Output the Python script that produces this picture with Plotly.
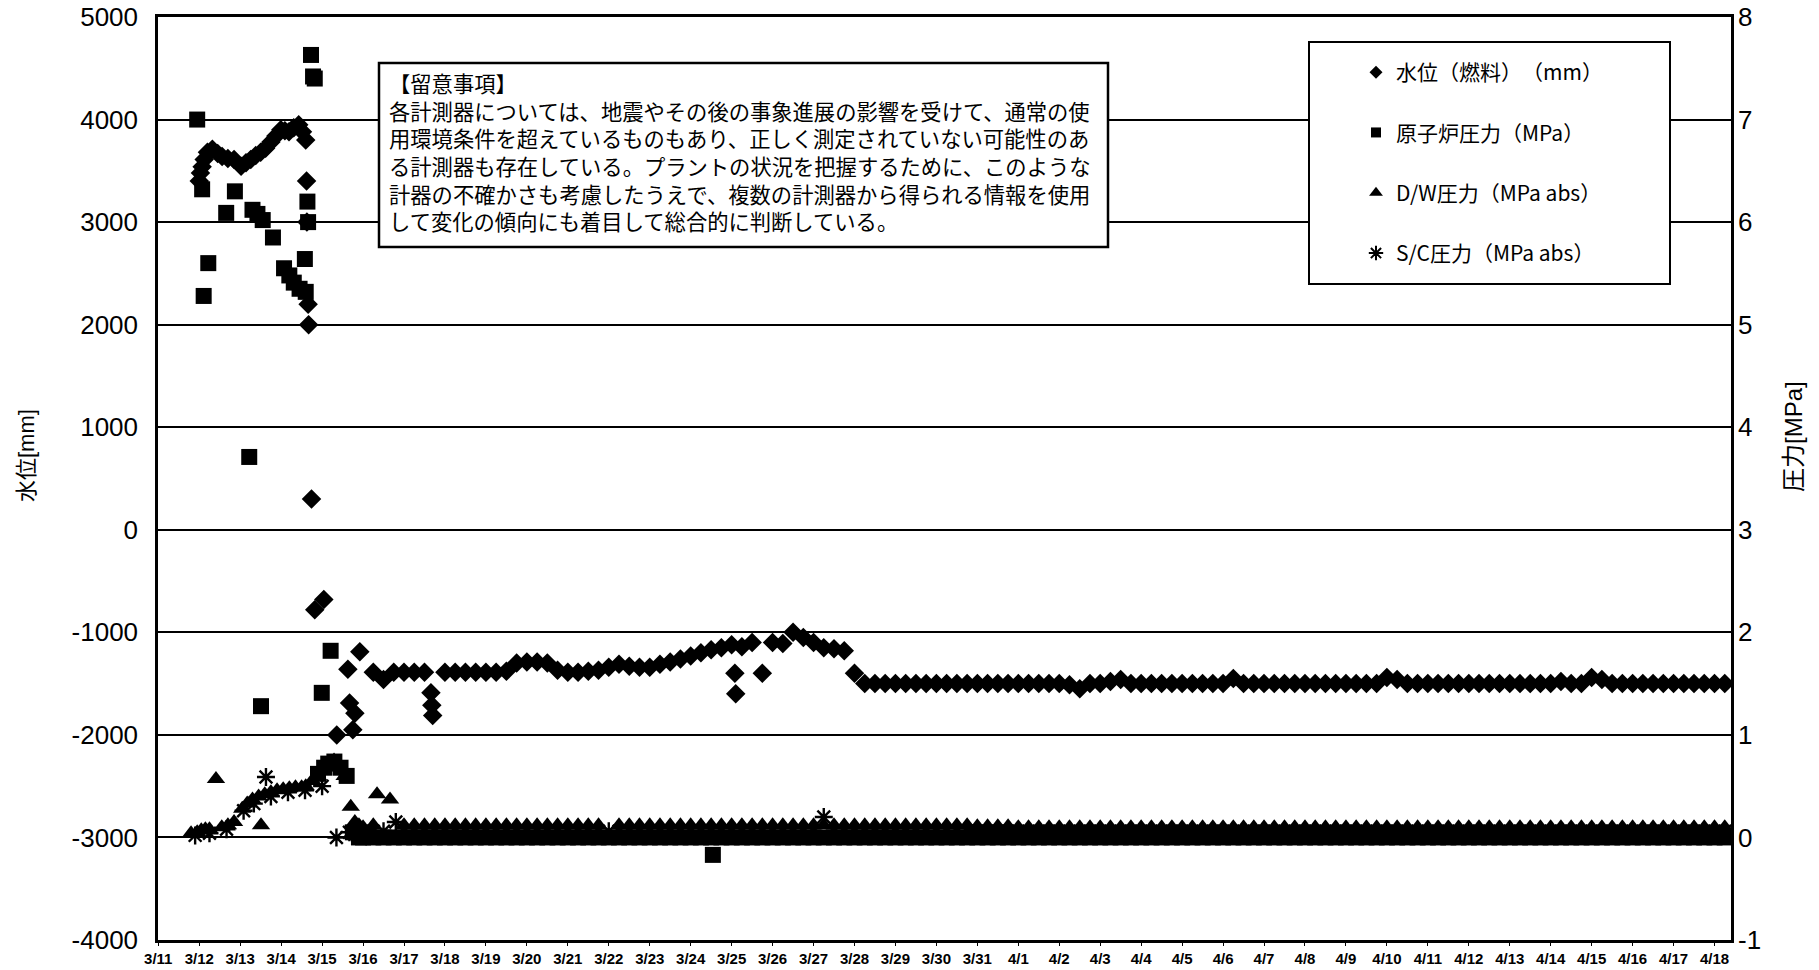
import plotly.graph_objects as go
import pandas as pd

# ---------------- data ----------------
BASE = pd.Timestamp("2011-03-11 00:00")

# Water level (fuel range) [mm] - irregular early readings, hours since 3/11 00:00
wl_early_h = [24.0, 24.7, 25.7, 26.9, 28.8, 31.7, 34.8, 37.4, 40.8, 44.4,
              48.5, 51.4, 54.2, 57.1, 60.0, 62.9, 66.0, 68.9, 71.8, 74.2,
              76.6, 79.4, 82.3, 84.5, 86.4, 86.9, 87.1, 87.8, 88.1, 89.8,
              91.7, 97.0, 104.6, 111.1, 112.1, 114.0, 115.2, 118.1,
              159.8, 160.3, 160.8, 337.9, 338.4]
wl_early_v = [3400, 3480, 3540, 3610, 3680, 3710, 3670, 3640, 3620, 3610,
              3545, 3580, 3610, 3650, 3680, 3720, 3780, 3840, 3900, 3890,
              3880, 3920, 3950, 3880, 3800, 3400, 3000, 2200, 2000, 300,
              -780, -680, -2000, -1360, -1690, -1950, -1790, -1190,
              -1590, -1710, -1810, -1400, -1600]

# Regular 6-hourly readings (00, 06, 12, 18 h) from 3/16 06:00 to 4/18 06:00
late_t = pd.date_range("2011-03-16 06:00", "2011-04-18 06:00", freq="6h")
wl_late = [
    -1390, -1460, -1390,                      # 3/16
    -1390, -1390, -1390, None,                # 3/17
    -1390, -1390, -1390, -1390,               # 3/18
    -1390, -1390, -1380, -1300,               # 3/19
    -1290, -1290, -1300, -1370,               # 3/20
    -1390, -1390, -1380, -1370,               # 3/21
    -1340, -1310, -1330, -1340,               # 3/22
    -1340, -1310, -1290, -1260,               # 3/23
    -1230, -1200, -1170, -1150,               # 3/24
    -1120, -1140, -1100, -1400,               # 3/25
    -1100, -1110, -1000, -1050,               # 3/26
    -1100, -1150, -1160, -1180,               # 3/27
    -1400, -1500, -1500, -1500,               # 3/28
    -1500, -1500, -1500, -1500,               # 3/29
    -1500, -1500, -1500, -1500,               # 3/30
    -1500, -1500, -1500, -1500,               # 3/31
    -1500, -1500, -1500, -1500,               # 4/1
    -1500, -1510, -1550, -1500,               # 4/2
    -1500, -1480, -1460, -1500,               # 4/3
    -1500, -1500, -1500, -1500,               # 4/4
    -1500, -1500, -1500, -1500,               # 4/5
    -1500, -1450, -1500, -1500,               # 4/6
    -1500, -1500, -1500, -1500,               # 4/7
    -1500, -1500, -1500, -1500,               # 4/8
    -1500, -1500, -1500, -1500,               # 4/9
    -1440, -1460, -1500, -1500,               # 4/10
    -1500, -1500, -1500, -1500,               # 4/11
    -1500, -1500, -1500, -1500,               # 4/12
    -1500, -1500, -1500, -1500,               # 4/13
    -1500, -1480, -1500, -1500,               # 4/14
    -1440, -1460, -1500, -1500,               # 4/15
    -1500, -1500, -1500, -1500,               # 4/16
    -1500, -1500, -1500, -1500,               # 4/17
    -1500, -1500,                             # 4/18
]

# Reactor pressure [MPa]
rpv_early_h = [22.8, 25.7, 26.6, 29.3, 39.8, 44.9, 53.3, 55.2, 58.1, 60.2,
               61.2, 67.2, 73.7, 76.8, 79.4, 82.8, 85.9, 86.4, 87.4, 87.8,
               89.5, 90.7, 91.7, 93.6, 95.8, 97.2, 99.6, 101.0, 103.2, 106.8,
               110.4, 114.0, 117.6, 120.0, 325.0]
rpv_early_v = [7.00, 6.32, 5.28, 5.60, 6.09, 6.30, 3.71, 6.12, 6.08, 1.28,
               6.02, 5.85, 5.55, 5.48, 5.41, 5.35, 5.64, 5.32, 6.20, 6.00,
               7.63, 7.42, 7.40, 0.62, 1.41, 0.68, 0.72, 1.82, 0.74, 0.68,
               0.60, 0.05, 0.00, 0.00, -0.17]
rpv_late = [
    0.00, 0.00, 0.00,                         # 3/16
    0.00, 0.00, 0.00, 0.00,                   # 3/17
    0.00, 0.00, 0.00, 0.00,                   # 3/18
    0.00, 0.00, 0.00, 0.00,                   # 3/19
    0.00, 0.00, 0.00, 0.00,                   # 3/20
    0.00, 0.00, 0.00, 0.00,                   # 3/21
    0.00, 0.00, 0.00, 0.00,                   # 3/22
    0.00, 0.00, 0.00, 0.00,                   # 3/23
    0.00, 0.00, 0.00, 0.00,                   # 3/24
    0.00, 0.00, 0.00, 0.00,                   # 3/25
    0.00, 0.00, 0.00, 0.00,                   # 3/26
    0.00, 0.00, 0.00, 0.00,                   # 3/27
    0.00, 0.00, 0.00, 0.00,                   # 3/28
    0.00, 0.00, 0.00, 0.00,                   # 3/29
    0.00, 0.00, 0.00, 0.00,                   # 3/30
    0.00, 0.00, 0.00, 0.00,                   # 3/31
    0.00, 0.00, 0.00, 0.00,                   # 4/1
    0.00, 0.00, 0.00, 0.00,                   # 4/2
    0.00, 0.00, 0.00, 0.00,                   # 4/3
    0.00, 0.00, 0.00, 0.00,                   # 4/4
    0.00, 0.00, 0.00, 0.00,                   # 4/5
    0.00, 0.00, 0.00, 0.00,                   # 4/6
    0.00, 0.00, 0.00, 0.00,                   # 4/7
    0.00, 0.00, 0.00, 0.00,                   # 4/8
    0.00, 0.00, 0.00, 0.00,                   # 4/9
    0.00, 0.00, 0.00, 0.00,                   # 4/10
    0.00, 0.00, 0.00, 0.00,                   # 4/11
    0.00, 0.00, 0.00, 0.00,                   # 4/12
    0.00, 0.00, 0.00, 0.00,                   # 4/13
    0.00, 0.00, 0.00, 0.00,                   # 4/14
    0.00, 0.00, 0.00, 0.00,                   # 4/15
    0.00, 0.00, 0.00, 0.00,                   # 4/16
    0.00, 0.00, 0.00, 0.00,                   # 4/17
    0.00, 0.00,                               # 4/18
]

# D/W pressure [MPa abs]
dw_early_h = [19.2, 22.8, 25.2, 27.6, 30.0, 33.8, 37.2, 40.8, 44.4, 49.2,
              52.1, 55.2, 58.8, 60.2, 62.4, 66.0, 69.6, 73.2, 76.8, 80.4,
              84.0, 86.4, 90.0, 93.6, 96.0, 99.6, 103.0, 105.6, 109.2, 112.8,
              115.2, 117.6, 120.0, 128.2, 135.8]
dw_early_v = [0.04, 0.05, 0.07, 0.08, 0.08, 0.57, 0.10, 0.12, 0.15, 0.28,
              0.33, 0.37, 0.40, 0.12, 0.42, 0.44, 0.46, 0.47, 0.48, 0.49,
              0.49, 0.50, 0.55, 0.60, 0.65, 0.70, 0.75, 0.70, 0.60, 0.30,
              0.15, 0.12, 0.10, 0.42, 0.37]
dw_late = [
    0.12, None, None,                         # 3/16
    0.12, 0.12, 0.12, 0.12,                   # 3/17
    0.12, 0.12, 0.12, 0.12,                   # 3/18
    0.12, 0.12, 0.12, 0.12,                   # 3/19
    0.12, 0.12, 0.12, 0.12,                   # 3/20
    0.12, 0.12, 0.12, 0.12,                   # 3/21
    None, 0.12, 0.12, 0.12,                   # 3/22
    0.12, 0.12, 0.12, 0.12,                   # 3/23
    0.12, 0.12, 0.12, 0.12,                   # 3/24
    0.12, 0.12, 0.12, 0.12,                   # 3/25
    0.12, 0.12, 0.12, 0.12,                   # 3/26
    0.12, 0.12, 0.12, 0.12,                   # 3/27
    0.12, 0.12, 0.12, 0.12,                   # 3/28
    0.12, 0.12, 0.12, 0.12,                   # 3/29
    0.12, 0.12, 0.12, 0.12,                   # 3/30
    0.11, 0.11, 0.11, 0.11,                   # 3/31
    0.10, 0.10, 0.10, 0.10,                   # 4/1
    0.10, 0.10, 0.10, 0.10,                   # 4/2
    0.10, 0.10, 0.10, 0.10,                   # 4/3
    0.10, 0.10, 0.10, 0.10,                   # 4/4
    0.10, 0.10, 0.10, 0.10,                   # 4/5
    0.10, 0.10, 0.10, 0.10,                   # 4/6
    0.10, 0.10, 0.10, 0.10,                   # 4/7
    0.10, 0.10, 0.10, 0.10,                   # 4/8
    0.10, 0.10, 0.10, 0.10,                   # 4/9
    0.10, 0.10, 0.10, 0.10,                   # 4/10
    0.10, 0.10, 0.10, 0.10,                   # 4/11
    0.10, 0.10, 0.10, 0.10,                   # 4/12
    0.10, 0.10, 0.10, 0.10,                   # 4/13
    0.10, 0.10, 0.10, 0.10,                   # 4/14
    0.10, 0.10, 0.10, 0.10,                   # 4/15
    0.10, 0.10, 0.10, 0.10,                   # 4/16
    0.10, 0.10, 0.10, 0.10,                   # 4/17
    0.10, 0.10,                               # 4/18
]

# S/C pressure [MPa abs]
sc_early_h = [21.6, 30.0, 40.0, 50.0, 56.0, 63.1, 66.0, 76.0, 86.0, 96.0,
              104.4, 112.0, 120.0, 139.2]
sc_early_v = [0.02, 0.04, 0.08, 0.26, 0.33, 0.59, 0.40, 0.44, 0.46, 0.50,
              0.00, 0.05, 0.05, 0.15]
sc_late = [
    0.06, 0.06, None,                         # 3/16
    0.06, 0.06, 0.06, 0.06,                   # 3/17
    0.06, 0.06, 0.06, 0.06,                   # 3/18
    0.06, 0.06, 0.06, 0.06,                   # 3/19
    0.06, 0.06, 0.06, 0.06,                   # 3/20
    0.06, 0.06, 0.06, 0.06,                   # 3/21
    0.06, 0.06, 0.06, 0.06,                   # 3/22
    0.06, 0.06, 0.06, 0.06,                   # 3/23
    0.06, 0.06, 0.06, 0.06,                   # 3/24
    0.06, 0.06, 0.06, 0.06,                   # 3/25
    0.06, 0.06, 0.06, 0.06,                   # 3/26
    0.06, 0.20, 0.06, 0.06,                   # 3/27
    0.06, 0.06, 0.06, 0.06,                   # 3/28
    0.06, 0.06, 0.06, 0.06,                   # 3/29
    0.06, 0.06, 0.06, 0.06,                   # 3/30
    0.06, 0.06, 0.06, 0.06,                   # 3/31
    0.06, 0.06, 0.06, 0.06,                   # 4/1
    0.06, 0.06, 0.06, 0.06,                   # 4/2
    0.06, 0.06, 0.06, 0.06,                   # 4/3
    0.06, 0.06, 0.06, 0.06,                   # 4/4
    0.06, 0.06, 0.06, 0.06,                   # 4/5
    0.06, 0.06, 0.06, 0.06,                   # 4/6
    0.06, 0.06, 0.06, 0.06,                   # 4/7
    0.06, 0.06, 0.06, 0.06,                   # 4/8
    0.06, 0.06, 0.06, 0.06,                   # 4/9
    0.06, 0.06, 0.06, 0.06,                   # 4/10
    0.06, 0.06, 0.06, 0.06,                   # 4/11
    0.06, 0.06, 0.06, 0.06,                   # 4/12
    0.06, 0.06, 0.06, 0.06,                   # 4/13
    0.06, 0.06, 0.06, 0.06,                   # 4/14
    0.06, 0.06, 0.06, 0.06,                   # 4/15
    0.06, 0.06, 0.06, 0.06,                   # 4/16
    0.06, 0.06, 0.06, 0.06,                   # 4/17
    0.06, 0.06,                               # 4/18
]

series_names = ["水位（燃料）（mm）", "原子炉圧力（MPa）", "D/W圧力（MPa abs）", "S/C圧力（MPa abs）"]
x_dates = pd.date_range("2011-03-11", "2011-04-18", freq="D")
x_ticklabels = [f"{d.month}/{d.day}" for d in x_dates]
y1_ticks = [-4000, -3000, -2000, -1000, 0, 1000, 2000, 3000, 4000, 5000]
y2_ticks = [-1, 0, 1, 2, 3, 4, 5, 6, 7, 8]

note_lines = [
    "【留意事項】",
    "各計測器については、地震やその後の事象進展の影響を受けて、通常の使",
    "用環境条件を超えているものもあり、正しく測定されていない可能性のあ",
    "る計測器も存在している。プラントの状況を把握するために、このような",
    "計器の不確かさも考慮したうえで、複数の計測器から得られる情報を使用",
    "して変化の傾向にも着目して総合的に判断している。",
]

# ---------------- figure ----------------
W, H = 1819, 970
L, R, T, B = 158, 88, 17, 30
PW, PH = W - L - R, H - T - B


def px(xp):
    return (xp - L) / PW


def py(yp):
    return (H - B - yp) / PH


FONT = "Arial, 'Liberation Sans', 'Noto Sans CJK JP', sans-serif"
JFONT = "'Noto Sans CJK JP', 'Liberation Sans', sans-serif"


def times(hours):
    return [BASE + pd.Timedelta(hours=h) for h in hours]


fig = go.Figure()

fig.add_trace(go.Scatter(
    x=times(wl_early_h) + list(late_t), y=wl_early_v + wl_late,
    mode="markers", yaxis="y", showlegend=False,
    marker=dict(symbol="diamond", size=15, color="black", line=dict(width=0))))
fig.add_trace(go.Scatter(
    x=times(rpv_early_h) + list(late_t), y=rpv_early_v + rpv_late,
    mode="markers", yaxis="y2", showlegend=False,
    marker=dict(symbol="square", size=16, color="black", line=dict(width=0))))
fig.add_trace(go.Scatter(
    x=times(dw_early_h) + list(late_t), y=dw_early_v + dw_late,
    mode="markers", yaxis="y2", showlegend=False,
    marker=dict(symbol="triangle-up", size=16, color="black", line=dict(width=0))))
fig.add_trace(go.Scatter(
    x=times(sc_early_h) + list(late_t), y=sc_early_v + sc_late,
    mode="markers", yaxis="y2", showlegend=False,
    marker=dict(symbol="asterisk-open", size=15, color="black",
                line=dict(width=2.4, color="black"))))

# legend entries (small symbols, like the original legend)
leg_sym = [("diamond", 10), ("square", 10), ("triangle-up", 12), ("asterisk-open", 12)]
for i, (name, (sym, sz)) in enumerate(zip(series_names, leg_sym)):
    fig.add_trace(go.Scatter(
        x=[None], y=[None], mode="markers", name=name, legendgroup=f"g{i}",
        marker=dict(symbol=sym, size=sz, color="black",
                    line=dict(width=2 if "open" in sym else 0, color="black"))))

shapes = [
    dict(type="rect", xref="paper", yref="paper",
         x0=px(379), x1=px(1108), y0=py(63), y1=py(247),
         line=dict(color="black", width=2.5), fillcolor="white", layer="above"),
    dict(type="rect", xref="paper", yref="paper",
         x0=px(1309), x1=px(1670), y0=py(42), y1=py(284),
         line=dict(color="black", width=2), fillcolor="white", layer="above"),
]

annotations = [
    dict(text="<br>".join(note_lines), xref="paper", yref="paper",
         x=px(387), y=py(65), xanchor="left", yanchor="top", align="left",
         showarrow=False, font=dict(family=JFONT, size=21.3, color="black")),
    dict(text="水位[mm]", xref="paper", yref="paper", x=px(26), y=py(456),
         xanchor="center", yanchor="middle", textangle=-90, showarrow=False,
         font=dict(family=FONT, size=22, color="black")),
    dict(text="圧力[MPa]", xref="paper", yref="paper", x=px(1793), y=py(437),
         xanchor="center", yanchor="middle", textangle=-90, showarrow=False,
         font=dict(family=FONT, size=24, color="black")),
]

fig.update_layout(
    width=W, height=H,
    margin=dict(l=L, r=R, t=T, b=B, pad=0, autoexpand=False),
    paper_bgcolor="white", plot_bgcolor="white",
    font=dict(family=FONT, color="black"),
    shapes=shapes, annotations=annotations,
    showlegend=True,
    legend=dict(x=px(1356), y=py(52), xanchor="left", yanchor="top",
                bgcolor="rgba(0,0,0,0)", borderwidth=0,
                font=dict(family=JFONT, size=21, color="black"),
                tracegroupgap=30, itemsizing="trace"),
    xaxis=dict(
        type="date", automargin=False,
        range=[BASE - pd.Timedelta(minutes=10), pd.Timestamp("2011-04-18 09:40")],
        tickvals=list(x_dates), ticktext=x_ticklabels,
        tickfont=dict(family=FONT, size=15, color="black", weight="bold"),
        showgrid=False, zeroline=False,
        showline=True, linecolor="black", linewidth=2.5, mirror=True,
        ticks="outside", ticklen=3, tickcolor="black", tickwidth=1,
    ),
    yaxis=dict(
        range=[-4000, 5000], tickvals=y1_ticks, ticktext=[str(v) for v in y1_ticks],
        automargin=False,
        tickfont=dict(family=FONT, size=26, color="black"),
        showgrid=True, gridcolor="black", gridwidth=2,
        zeroline=False, showline=True, linecolor="black", linewidth=2.5,
        mirror=True, ticks="", ticklabelstandoff=12,
    ),
    yaxis2=dict(
        range=[-1, 8], tickvals=y2_ticks, ticktext=[str(v) for v in y2_ticks],
        overlaying="y", side="right", automargin=False,
        tickfont=dict(family=FONT, size=26, color="black"),
        showgrid=False, zeroline=False, showline=False, ticks="",
        ticklabelstandoff=6,
    ),
)

fig.write_html(
    "out.html",
    config={"displayModeBar": False},
    post_script=(
        "document.body.style.margin='0';document.body.style.overflow='hidden';"
        "var s=document.createElement('style');"
        "s.textContent='svg text{text-spacing-trim:space-all;}';"
        "document.head.appendChild(s);"
    ),
)
